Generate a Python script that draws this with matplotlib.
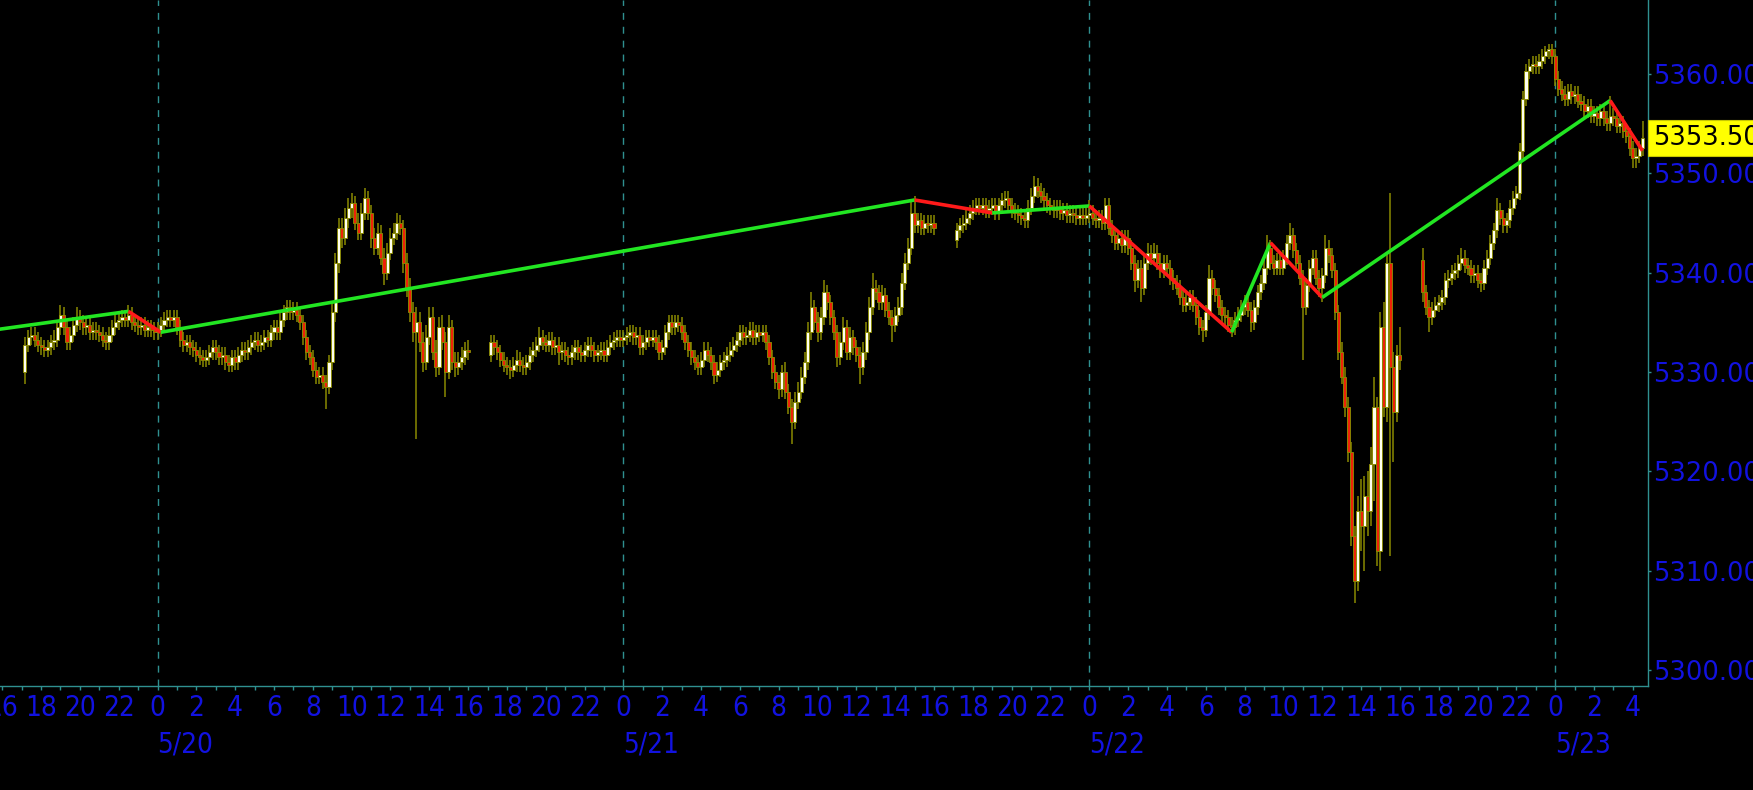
"""
ES futures 10-minute candles (5/19 evening - 5/23 morning) on a black
terminal-style canvas, with the swing (zigzag) overlay and last-price tag.
"""

import os
import numpy as np
import pandas as pd
import matplotlib
matplotlib.use("Agg")
import matplotlib.pyplot as plt
import matplotlib.dates as mdates
import matplotlib.transforms as mtransforms
from matplotlib.patches import Rectangle
from matplotlib import font_manager

# trading sessions (bar end times, 10-minute bars)
SESSIONS = [
    ("2024-05-19 17:10", "2024-05-20 16:00"),
    ("2024-05-20 17:10", "2024-05-21 16:00"),
    ("2024-05-21 17:10", "2024-05-22 16:00"),
    ("2024-05-22 17:10", "2024-05-23 04:30"),
]

# one row per hour, six bars per row
opens = [
    # session 5/19-5/20
    5330.0, 5332.75, 5333.5, 5333.75, 5333.25, 5332.75,
    5332.5, 5332.25, 5332.5, 5333.0, 5333.25, 5334.5,
    5335.75, 5334.5, 5333.0, 5333.75, 5334.75, 5335.5,
    5335.0, 5334.5, 5334.75, 5334.0, 5334.25, 5334.0,
    5333.75, 5333.25, 5333.0, 5333.75, 5334.5, 5335.0,
    5335.25, 5335.5, 5335.25, 5335.75, 5335.0, 5334.75,
    5334.5, 5334.75, 5334.25, 5334.5, 5334.25, 5334.0,
    5334.25, 5334.75, 5335.25, 5335.5, 5335.25, 5335.5,
    5334.5, 5333.25, 5332.75, 5333.0, 5332.5, 5332.25,
    5331.75, 5331.5, 5331.25, 5331.5, 5332.0, 5332.5,
    5332.0, 5331.5, 5331.75, 5331.0, 5330.75, 5331.5,
    5331.0, 5331.75, 5332.25, 5332.0, 5332.5, 5333.0,
    5333.25, 5332.75, 5333.0, 5333.5, 5333.25, 5334.0,
    5334.5, 5334.0, 5335.25, 5336.0, 5336.5, 5336.0,
    5336.25, 5335.75, 5335.0, 5333.5, 5332.0, 5331.5,
    5330.25, 5329.5, 5329.75, 5329.0, 5328.5, 5331.0,
    5336.0, 5341.0, 5344.5, 5343.5, 5345.5, 5346.5,
    5347.0, 5345.0, 5344.0, 5346.0, 5347.5, 5346.0,
    5343.5, 5342.5, 5344.0, 5341.5, 5340.0, 5342.0,
    5343.5, 5344.0, 5345.0, 5344.5, 5341.0, 5338.5,
    5336.0, 5334.0, 5335.0, 5333.0, 5331.0, 5333.5,
    5335.5, 5332.0, 5330.5, 5334.5, 5333.0, 5330.0,
    5334.5, 5331.0, 5330.5, 5331.0, 5331.5, 5332.25,
    # session 5/20-5/21
    5331.75, 5333.0, 5332.5, 5332.0, 5331.25, 5330.75,
    5330.5, 5330.25, 5330.75, 5331.25, 5330.75, 5330.5,
    5331.0, 5331.75, 5332.25, 5332.75, 5333.5, 5333.0,
    5332.75, 5333.25, 5332.5, 5332.75, 5332.0, 5332.25,
    5331.75, 5331.5, 5332.0, 5332.5, 5332.0, 5331.75,
    5332.25, 5332.75, 5332.25, 5331.75, 5332.0, 5332.25,
    5331.75, 5332.5, 5333.0, 5333.25, 5333.5, 5333.25,
    5333.5, 5333.75, 5334.0, 5333.5, 5333.75, 5332.5,
    5333.0, 5333.5, 5333.25, 5333.5, 5333.0, 5332.0,
    5332.5, 5334.0, 5335.0, 5334.5, 5335.0, 5334.75,
    5334.0, 5333.0, 5332.25, 5331.5, 5331.0, 5330.5,
    5331.25, 5332.25, 5331.75, 5331.0, 5329.75, 5330.25,
    5331.0, 5331.25, 5331.75, 5332.25, 5332.75, 5333.25,
    5334.0, 5333.5, 5333.75, 5334.25, 5333.5, 5334.0,
    5333.75, 5334.0, 5333.0, 5331.5, 5330.0, 5329.0,
    5328.25, 5330.0, 5328.0, 5326.5, 5325.0, 5327.0,
    5328.0, 5329.5, 5331.0, 5334.0, 5336.5, 5335.0,
    5334.0, 5335.5, 5338.0, 5337.0, 5335.5, 5334.0,
    5331.5, 5333.0, 5334.5, 5332.0, 5333.5, 5332.5,
    5331.75, 5330.5, 5332.0, 5334.0, 5336.5, 5338.5,
    5338.0, 5337.0, 5337.75, 5336.25, 5335.5, 5334.75,
    5335.75, 5336.5, 5339.0, 5341.0, 5342.5, 5346.0,
    5344.75, 5345.25, 5344.5, 5345.0, 5344.75, 5345.0,
    # session 5/21-5/22
    5343.25, 5344.25, 5344.75, 5345.0, 5345.5, 5346.0,
    5346.5, 5346.75, 5346.5, 5346.75, 5346.25, 5346.5,
    5346.75, 5346.0, 5346.75, 5347.25, 5347.5, 5346.75,
    5346.25, 5346.0, 5345.75, 5345.5, 5345.25, 5346.5,
    5347.75, 5348.75, 5348.25, 5347.75, 5347.25, 5346.75,
    5346.5, 5346.25, 5346.5, 5346.0, 5346.25, 5345.75,
    5346.0, 5345.75, 5345.5, 5345.75, 5345.5, 5345.75,
    5346.0, 5345.5, 5345.25, 5345.5, 5345.0, 5346.75,
    5344.5, 5343.75, 5343.0, 5343.5, 5342.75, 5343.5,
    5342.5, 5341.0, 5339.25, 5340.5, 5338.5, 5341.0,
    5342.0, 5341.5, 5342.0, 5341.0, 5340.25, 5341.0,
    5340.5, 5339.5, 5339.0, 5338.5, 5337.5, 5336.75,
    5337.0, 5337.5, 5336.75, 5335.5, 5334.5, 5334.25,
    5336.0, 5339.5, 5338.5, 5337.75, 5336.5, 5335.75,
    5335.5, 5334.75, 5334.5, 5335.25, 5335.75, 5336.5,
    5337.0, 5336.25, 5335.0, 5336.5, 5338.0, 5339.0,
    5340.5, 5342.5, 5341.0, 5340.5, 5341.25, 5340.5,
    5341.5, 5343.0, 5343.75, 5342.25, 5341.0, 5339.5,
    5336.5, 5338.75, 5340.5, 5341.5, 5339.5, 5338.5,
    5339.75, 5342.5, 5341.75, 5340.25, 5336.0, 5332.0,
    5329.5, 5326.5, 5322.0, 5313.5, 5309.0, 5316.0,
    5314.5, 5317.5, 5316.0, 5320.75, 5326.5, 5312.0,
    5334.5, 5326.5, 5341.0, 5330.5, 5326.0, 5331.75,
    # session 5/22-5/23
    5341.25, 5338.0, 5336.5, 5335.5, 5336.25, 5336.75,
    5337.0, 5337.5, 5339.25, 5339.5, 5340.0, 5340.25,
    5341.0, 5341.5, 5340.75, 5340.5, 5339.75, 5340.0,
    5339.25, 5339.0, 5340.5, 5341.5, 5343.0, 5344.25,
    5346.25, 5345.5, 5344.75, 5345.25, 5346.5, 5347.5,
    5348.0, 5352.25, 5357.5, 5360.25, 5360.75, 5361.0,
    5360.75, 5361.25, 5361.75, 5362.25, 5362.5, 5361.75,
    5359.5, 5358.5, 5358.0, 5357.5, 5358.25, 5357.75,
    5358.0, 5357.25, 5357.0, 5356.25, 5356.75, 5355.75,
    5356.0, 5355.5, 5356.25, 5355.5, 5355.0, 5355.75,
    5355.5, 5354.75, 5355.0, 5354.25, 5353.75, 5352.5,
    5351.5, 5351.75, 5352.5,
]

highs = [
    5333.5, 5334.25, 5334.5, 5334.5, 5334.0, 5333.5,
    5333.25, 5333.25, 5333.75, 5334.25, 5335.25, 5336.75,
    5336.5, 5335.25, 5334.5, 5335.5, 5336.5, 5336.25,
    5335.75, 5335.5, 5335.5, 5335.0, 5335.0, 5334.75,
    5334.5, 5334.0, 5334.5, 5335.25, 5335.75, 5336.0,
    5336.25, 5336.25, 5336.75, 5336.5, 5335.75, 5335.5,
    5335.5, 5335.5, 5335.25, 5335.25, 5335.0, 5335.0,
    5335.5, 5336.0, 5336.25, 5336.25, 5336.25, 5336.25,
    5335.25, 5334.0, 5333.75, 5333.75, 5333.25, 5333.0,
    5332.5, 5332.25, 5332.25, 5332.75, 5333.25, 5333.25,
    5332.75, 5332.5, 5332.5, 5331.75, 5332.25, 5332.25,
    5332.5, 5333.0, 5333.0, 5333.25, 5333.75, 5334.0,
    5334.0, 5333.75, 5334.25, 5334.25, 5334.75, 5335.25,
    5335.25, 5336.0, 5336.75, 5337.25, 5337.25, 5337.0,
    5337.0, 5336.5, 5335.75, 5334.25, 5332.75, 5332.25,
    5331.0, 5330.5, 5330.5, 5329.75, 5331.75, 5337.0,
    5342.0, 5345.5, 5345.5, 5346.5, 5347.5, 5348.0,
    5347.75, 5346.0, 5347.0, 5348.5, 5348.25, 5346.75,
    5344.5, 5345.0, 5344.75, 5342.5, 5343.0, 5344.5,
    5345.0, 5346.0, 5345.75, 5345.25, 5342.0, 5339.5,
    5337.0, 5336.5, 5336.0, 5334.0, 5334.75, 5336.5,
    5336.5, 5333.25, 5335.5, 5335.75, 5334.0, 5335.75,
    5335.25, 5332.0, 5332.0, 5332.5, 5333.0, 5333.25,
    5333.75, 5333.75, 5333.25, 5332.75, 5332.0, 5331.5,
    5331.25, 5331.5, 5332.25, 5332.0, 5331.5, 5331.75,
    5332.5, 5333.0, 5333.5, 5334.5, 5334.25, 5333.75,
    5334.0, 5334.0, 5333.5, 5333.5, 5333.0, 5333.0,
    5332.5, 5332.75, 5333.25, 5333.25, 5332.75, 5333.0,
    5333.5, 5333.5, 5333.0, 5332.75, 5333.0, 5333.0,
    5333.25, 5333.75, 5334.0, 5334.25, 5334.25, 5334.25,
    5334.5, 5334.75, 5334.75, 5334.5, 5334.5, 5333.75,
    5334.25, 5334.25, 5334.25, 5334.25, 5333.75, 5333.25,
    5334.75, 5335.75, 5335.75, 5335.75, 5335.75, 5335.5,
    5334.75, 5333.75, 5333.0, 5332.25, 5331.75, 5332.0,
    5333.0, 5333.0, 5332.5, 5331.75, 5331.0, 5331.75,
    5332.0, 5332.5, 5333.0, 5333.5, 5334.0, 5334.75,
    5334.75, 5334.5, 5335.0, 5335.0, 5334.75, 5334.75,
    5334.75, 5334.75, 5333.75, 5332.25, 5330.75, 5329.75,
    5330.75, 5331.0, 5328.75, 5327.25, 5328.0, 5329.0,
    5330.5, 5332.0, 5335.0, 5338.0, 5337.25, 5336.0,
    5336.5, 5339.25, 5338.75, 5337.75, 5336.25, 5334.75,
    5334.0, 5335.5, 5335.25, 5334.5, 5334.25, 5333.25,
    5332.5, 5333.0, 5335.0, 5337.5, 5340.0, 5339.25,
    5338.75, 5338.75, 5338.5, 5337.0, 5336.25, 5336.5,
    5337.5, 5340.0, 5342.0, 5343.5, 5347.25, 5347.75,
    5346.0, 5346.0, 5345.75, 5345.75, 5345.75, 5345.75,
    5345.0, 5345.5, 5345.75, 5346.25, 5346.75, 5347.25,
    5347.5, 5347.5, 5347.5, 5347.5, 5347.25, 5347.5,
    5347.5, 5347.5, 5348.0, 5348.25, 5348.25, 5347.5,
    5347.0, 5346.75, 5346.5, 5346.25, 5347.25, 5348.5,
    5349.75, 5349.5, 5349.0, 5348.5, 5348.0, 5347.5,
    5347.25, 5347.25, 5347.25, 5347.0, 5347.0, 5346.75,
    5346.75, 5346.5, 5346.5, 5346.5, 5346.5, 5347.25,
    5346.75, 5346.25, 5346.25, 5346.25, 5347.5, 5347.5,
    5345.25, 5344.5, 5344.25, 5344.25, 5344.25, 5344.25,
    5343.25, 5341.75, 5341.25, 5341.25, 5342.0, 5343.0,
    5342.75, 5343.0, 5342.75, 5342.0, 5341.75, 5341.75,
    5341.25, 5340.25, 5339.75, 5339.25, 5338.25, 5338.0,
    5338.25, 5338.25, 5337.5, 5336.25, 5335.25, 5336.75,
    5340.75, 5340.25, 5339.25, 5338.5, 5337.25, 5336.5,
    5336.25, 5335.5, 5336.0, 5336.5, 5337.25, 5337.75,
    5337.75, 5337.0, 5337.25, 5338.75, 5339.75, 5341.25,
    5343.75, 5343.25, 5341.75, 5342.0, 5342.0, 5342.25,
    5343.75, 5345.0, 5344.5, 5343.0, 5341.75, 5340.25,
    5339.5, 5341.25, 5342.25, 5342.25, 5340.25, 5340.5,
    5343.75, 5343.25, 5342.5, 5341.0, 5336.75, 5333.0,
    5330.5, 5327.5, 5323.0, 5314.5, 5317.5, 5319.25,
    5319.5, 5320.0, 5322.5, 5329.5, 5327.5, 5336.0,
    5337.0, 5342.0, 5348.0, 5332.0, 5332.75, 5334.5,
    5342.5, 5338.75, 5337.25, 5337.0, 5337.5, 5337.75,
    5338.25, 5340.0, 5340.25, 5340.75, 5341.0, 5341.75,
    5342.5, 5342.25, 5341.5, 5341.25, 5340.75, 5340.75,
    5340.0, 5341.25, 5342.25, 5343.75, 5345.0, 5347.5,
    5347.0, 5346.25, 5346.0, 5347.25, 5348.25, 5348.75,
    5353.0, 5358.25, 5361.0, 5361.5, 5361.75, 5361.75,
    5362.0, 5362.5, 5362.75, 5363.0, 5363.0, 5362.5,
    5360.25, 5359.25, 5358.75, 5359.0, 5359.0, 5358.75,
    5358.75, 5358.0, 5357.75, 5357.5, 5357.5, 5356.75,
    5356.75, 5357.0, 5357.0, 5356.25, 5357.75, 5356.5,
    5356.25, 5355.75, 5355.75, 5355.0, 5354.5, 5353.25,
    5352.5, 5353.25, 5355.25,
]

lows = [
    5328.75, 5332.0, 5332.75, 5332.5, 5332.0, 5331.75,
    5331.5, 5331.5, 5331.75, 5332.25, 5332.5, 5333.75,
    5333.75, 5332.25, 5332.25, 5333.0, 5334.0, 5334.25,
    5333.75, 5333.75, 5333.25, 5333.25, 5333.25, 5333.0,
    5332.5, 5332.25, 5332.25, 5333.0, 5333.75, 5334.25,
    5334.5, 5334.5, 5334.5, 5334.25, 5334.0, 5333.75,
    5333.75, 5333.5, 5333.5, 5333.5, 5333.25, 5333.25,
    5333.5, 5334.0, 5334.5, 5334.5, 5334.5, 5333.75,
    5332.5, 5332.0, 5332.0, 5331.75, 5331.5, 5331.0,
    5330.75, 5330.5, 5330.5, 5330.75, 5331.25, 5331.25,
    5330.75, 5330.75, 5330.25, 5330.0, 5330.0, 5330.25,
    5330.25, 5331.0, 5331.25, 5331.25, 5331.75, 5332.25,
    5332.0, 5332.0, 5332.25, 5332.5, 5332.5, 5333.25,
    5333.25, 5333.25, 5334.5, 5335.25, 5335.25, 5335.25,
    5335.0, 5334.25, 5332.75, 5331.25, 5330.75, 5329.5,
    5328.75, 5328.75, 5328.25, 5326.25, 5327.75, 5330.25,
    5335.0, 5340.0, 5342.5, 5342.75, 5344.5, 5345.5,
    5344.25, 5343.25, 5343.25, 5345.25, 5345.25, 5342.5,
    5341.75, 5341.75, 5340.75, 5338.75, 5339.25, 5341.25,
    5342.75, 5343.25, 5343.75, 5340.0, 5337.5, 5335.0,
    5333.0, 5323.25, 5332.0, 5330.0, 5330.25, 5332.75,
    5331.25, 5329.5, 5329.75, 5332.25, 5327.5, 5329.25,
    5330.25, 5329.5, 5329.75, 5330.25, 5330.75, 5331.25,
    5331.0, 5331.75, 5331.25, 5330.5, 5330.0, 5329.75,
    5329.25, 5329.5, 5330.0, 5330.0, 5329.75, 5329.75,
    5330.25, 5331.0, 5331.5, 5332.0, 5332.25, 5332.0,
    5332.0, 5331.75, 5331.75, 5330.75, 5331.25, 5331.0,
    5330.75, 5330.75, 5331.25, 5331.25, 5331.0, 5331.0,
    5331.5, 5331.5, 5331.0, 5331.0, 5331.25, 5331.0,
    5331.0, 5331.75, 5332.25, 5332.5, 5332.5, 5332.5,
    5332.75, 5333.0, 5332.75, 5332.75, 5331.75, 5331.75,
    5332.25, 5332.5, 5332.5, 5332.25, 5331.25, 5331.25,
    5331.75, 5333.25, 5333.75, 5333.75, 5334.0, 5333.25,
    5332.25, 5331.5, 5330.75, 5330.25, 5329.75, 5329.75,
    5330.5, 5331.0, 5330.25, 5328.75, 5329.0, 5329.5,
    5330.25, 5330.5, 5331.0, 5331.5, 5332.0, 5332.5,
    5332.75, 5332.75, 5333.0, 5332.75, 5332.75, 5333.0,
    5333.0, 5332.25, 5330.75, 5329.25, 5328.25, 5327.25,
    5327.5, 5327.25, 5325.75, 5322.75, 5324.25, 5326.25,
    5327.25, 5328.75, 5330.25, 5333.25, 5334.25, 5333.0,
    5333.25, 5334.75, 5336.25, 5334.75, 5333.25, 5330.5,
    5330.75, 5332.25, 5331.25, 5331.25, 5331.75, 5331.0,
    5328.75, 5329.75, 5331.25, 5333.25, 5335.75, 5337.25,
    5336.25, 5336.25, 5335.5, 5334.75, 5333.0, 5334.0,
    5335.0, 5335.75, 5338.25, 5340.25, 5341.75, 5344.0,
    5344.0, 5343.75, 5343.75, 5344.0, 5344.0, 5343.75,
    5342.5, 5343.5, 5344.0, 5344.25, 5344.75, 5345.25,
    5345.75, 5345.75, 5345.75, 5345.5, 5345.5, 5345.75,
    5345.25, 5345.25, 5346.0, 5346.5, 5346.0, 5345.5,
    5345.25, 5345.0, 5344.75, 5344.5, 5344.5, 5345.75,
    5347.0, 5347.5, 5347.0, 5346.5, 5346.0, 5345.75,
    5345.5, 5345.5, 5345.25, 5345.25, 5345.0, 5345.0,
    5345.0, 5344.75, 5344.75, 5344.75, 5344.75, 5345.0,
    5344.75, 5344.5, 5344.5, 5344.25, 5344.25, 5343.75,
    5343.0, 5342.25, 5342.25, 5342.0, 5342.0, 5341.75,
    5340.25, 5338.0, 5338.5, 5337.0, 5337.75, 5340.25,
    5340.75, 5340.75, 5340.25, 5339.5, 5339.5, 5339.75,
    5338.75, 5338.25, 5337.75, 5336.75, 5336.0, 5336.0,
    5336.25, 5336.0, 5334.75, 5333.75, 5333.0, 5333.5,
    5335.25, 5337.75, 5337.0, 5335.75, 5335.0, 5334.75,
    5334.0, 5333.5, 5333.75, 5334.5, 5335.0, 5335.75,
    5335.5, 5334.0, 5334.25, 5335.75, 5337.25, 5338.25,
    5339.75, 5340.25, 5339.75, 5339.75, 5339.75, 5339.75,
    5340.75, 5342.25, 5341.5, 5340.25, 5338.75, 5331.25,
    5335.75, 5338.0, 5339.75, 5338.75, 5337.5, 5337.0,
    5339.0, 5341.0, 5339.5, 5335.25, 5331.25, 5328.75,
    5325.5, 5321.0, 5312.5, 5306.75, 5308.0, 5312.0,
    5310.0, 5313.5, 5314.5, 5317.0, 5310.5, 5310.0,
    5325.5, 5325.0, 5311.5, 5321.0, 5325.0, 5330.25,
    5337.0, 5335.75, 5334.0, 5334.75, 5335.5, 5336.0,
    5336.25, 5336.75, 5338.5, 5338.75, 5339.25, 5339.5,
    5340.25, 5340.0, 5339.75, 5339.0, 5339.0, 5338.5,
    5338.0, 5338.25, 5339.75, 5340.75, 5342.25, 5343.5,
    5344.75, 5344.0, 5344.0, 5344.5, 5345.75, 5346.75,
    5347.25, 5351.5, 5356.75, 5359.5, 5360.0, 5360.0,
    5360.0, 5360.5, 5361.0, 5361.5, 5361.0, 5358.75,
    5357.75, 5357.25, 5356.75, 5356.75, 5357.0, 5357.0,
    5356.5, 5356.25, 5355.5, 5355.5, 5355.0, 5355.0,
    5354.75, 5354.75, 5354.75, 5354.25, 5354.25, 5354.75,
    5354.0, 5354.0, 5353.5, 5353.0, 5351.75, 5350.5,
    5350.5, 5351.0, 5351.75,
]

closes = [
    5332.75, 5333.5, 5333.75, 5333.25, 5332.75, 5332.5,
    5332.25, 5332.5, 5333.0, 5333.25, 5334.5, 5335.75,
    5334.5, 5333.0, 5333.75, 5334.75, 5335.5, 5335.0,
    5334.5, 5334.75, 5334.0, 5334.25, 5334.0, 5333.75,
    5333.25, 5333.0, 5333.75, 5334.5, 5335.0, 5335.25,
    5335.5, 5335.25, 5335.75, 5335.0, 5334.75, 5334.5,
    5334.75, 5334.25, 5334.5, 5334.25, 5334.0, 5334.25,
    5334.75, 5335.25, 5335.5, 5335.25, 5335.5, 5334.5,
    5333.25, 5332.75, 5333.0, 5332.5, 5332.25, 5331.75,
    5331.5, 5331.25, 5331.5, 5332.0, 5332.5, 5332.0,
    5331.5, 5331.75, 5331.0, 5330.75, 5331.5, 5331.0,
    5331.75, 5332.25, 5332.0, 5332.5, 5333.0, 5333.25,
    5332.75, 5333.0, 5333.5, 5333.25, 5334.0, 5334.5,
    5334.0, 5335.25, 5336.0, 5336.5, 5336.0, 5336.25,
    5335.75, 5335.0, 5333.5, 5332.0, 5331.5, 5330.25,
    5329.5, 5329.75, 5329.0, 5328.5, 5331.0, 5336.0,
    5341.0, 5344.5, 5343.5, 5345.5, 5346.5, 5347.0,
    5345.0, 5344.0, 5346.0, 5347.5, 5346.0, 5343.5,
    5342.5, 5344.0, 5341.5, 5340.0, 5342.0, 5343.5,
    5344.0, 5345.0, 5344.5, 5341.0, 5338.5, 5336.0,
    5334.0, 5335.0, 5333.0, 5331.0, 5333.5, 5335.5,
    5332.0, 5330.5, 5334.5, 5333.0, 5330.0, 5334.5,
    5331.0, 5330.5, 5331.0, 5331.5, 5332.25, 5332.0,
    5333.0, 5332.5, 5332.0, 5331.25, 5330.75, 5330.5,
    5330.25, 5330.75, 5331.25, 5330.75, 5330.5, 5331.0,
    5331.75, 5332.25, 5332.75, 5333.5, 5333.0, 5332.75,
    5333.25, 5332.5, 5332.75, 5332.0, 5332.25, 5331.75,
    5331.5, 5332.0, 5332.5, 5332.0, 5331.75, 5332.25,
    5332.75, 5332.25, 5331.75, 5332.0, 5332.25, 5331.75,
    5332.5, 5333.0, 5333.25, 5333.5, 5333.25, 5333.5,
    5333.75, 5334.0, 5333.5, 5333.75, 5332.5, 5333.0,
    5333.5, 5333.25, 5333.5, 5333.0, 5332.0, 5332.5,
    5334.0, 5335.0, 5334.5, 5335.0, 5334.75, 5334.0,
    5333.0, 5332.25, 5331.5, 5331.0, 5330.5, 5331.25,
    5332.25, 5331.75, 5331.0, 5329.75, 5330.25, 5331.0,
    5331.25, 5331.75, 5332.25, 5332.75, 5333.25, 5334.0,
    5333.5, 5333.75, 5334.25, 5333.5, 5334.0, 5333.75,
    5334.0, 5333.0, 5331.5, 5330.0, 5329.0, 5328.25,
    5330.0, 5328.0, 5326.5, 5325.0, 5327.0, 5328.0,
    5329.5, 5331.0, 5334.0, 5336.5, 5335.0, 5334.0,
    5335.5, 5338.0, 5337.0, 5335.5, 5334.0, 5331.5,
    5333.0, 5334.5, 5332.0, 5333.5, 5332.5, 5331.75,
    5330.5, 5332.0, 5334.0, 5336.5, 5338.5, 5338.0,
    5337.0, 5337.75, 5336.25, 5335.5, 5334.75, 5335.75,
    5336.5, 5339.0, 5341.0, 5342.5, 5346.0, 5344.75,
    5345.25, 5344.5, 5345.0, 5344.75, 5345.0, 5344.5,
    5344.25, 5344.75, 5345.0, 5345.5, 5346.0, 5346.5,
    5346.75, 5346.5, 5346.75, 5346.25, 5346.5, 5346.75,
    5346.0, 5346.75, 5347.25, 5347.5, 5346.75, 5346.25,
    5346.0, 5345.75, 5345.5, 5345.25, 5346.5, 5347.75,
    5348.75, 5348.25, 5347.75, 5347.25, 5346.75, 5346.5,
    5346.25, 5346.5, 5346.0, 5346.25, 5345.75, 5346.0,
    5345.75, 5345.5, 5345.75, 5345.5, 5345.75, 5346.0,
    5345.5, 5345.25, 5345.5, 5345.0, 5346.75, 5344.5,
    5343.75, 5343.0, 5343.5, 5342.75, 5343.5, 5342.5,
    5341.0, 5339.25, 5340.5, 5338.5, 5341.0, 5342.0,
    5341.5, 5342.0, 5341.0, 5340.25, 5341.0, 5340.5,
    5339.5, 5339.0, 5338.5, 5337.5, 5336.75, 5337.0,
    5337.5, 5336.75, 5335.5, 5334.5, 5334.25, 5336.0,
    5339.5, 5338.5, 5337.75, 5336.5, 5335.75, 5335.5,
    5334.75, 5334.5, 5335.25, 5335.75, 5336.5, 5337.0,
    5336.25, 5335.0, 5336.5, 5338.0, 5339.0, 5340.5,
    5342.5, 5341.0, 5340.5, 5341.25, 5340.5, 5341.5,
    5343.0, 5343.75, 5342.25, 5341.0, 5339.5, 5336.5,
    5338.75, 5340.5, 5341.5, 5339.5, 5338.5, 5339.75,
    5342.5, 5341.75, 5340.25, 5336.0, 5332.0, 5329.5,
    5326.5, 5322.0, 5313.5, 5309.0, 5316.0, 5314.5,
    5317.5, 5316.0, 5320.75, 5326.5, 5312.0, 5334.5,
    5326.5, 5341.0, 5330.5, 5326.0, 5331.75, 5331.25,
    5338.0, 5336.5, 5335.5, 5336.25, 5336.75, 5337.0,
    5337.5, 5339.25, 5339.5, 5340.0, 5340.25, 5341.0,
    5341.5, 5340.75, 5340.5, 5339.75, 5340.0, 5339.25,
    5339.0, 5340.5, 5341.5, 5343.0, 5344.25, 5346.25,
    5345.5, 5344.75, 5345.25, 5346.5, 5347.5, 5348.0,
    5352.25, 5357.5, 5360.25, 5360.75, 5361.0, 5360.75,
    5361.25, 5361.75, 5362.25, 5362.5, 5361.75, 5359.5,
    5358.5, 5358.0, 5357.5, 5358.25, 5357.75, 5358.0,
    5357.25, 5357.0, 5356.25, 5356.75, 5355.75, 5356.0,
    5355.5, 5356.25, 5355.5, 5355.0, 5355.75, 5355.5,
    5354.75, 5355.0, 5354.25, 5353.75, 5352.5, 5351.5,
    5351.75, 5352.5, 5353.5,
]

# swing pivots of the overlay line
zz_times = ["2024-05-19 15:50", "2024-05-19 22:30", "2024-05-20 00:10",
            "2024-05-21 15:00", "2024-05-21 19:00", "2024-05-22 00:00",
            "2024-05-22 07:20", "2024-05-22 09:20", "2024-05-22 12:00",
            "2024-05-23 02:50", "2024-05-23 04:30"]
zz_prices = [5334.3, 5336.1, 5334.0, 5347.3, 5346.0, 5346.7,
             5334.0, 5343.0, 5337.5, 5357.3, 5352.25]

day_marks = ["2024-05-20", "2024-05-21", "2024-05-22", "2024-05-23"]
price_ticks = [5300, 5310, 5320, 5330, 5340, 5350, 5360]
last_price = 5353.50

X_START, X_END = "2024-05-19 15:53", "2024-05-23 04:47"
Y_MIN, Y_MAX = 5298.43, 5367.41

BG = "black"
TEAL = "#2f9090"
BLUE = "#1212e0"
OLIVE = "#8a8a00"
UP_FACE = "#fffff0"
DOWN_FACE = "#ee2208"
ZZ_UP = "#22e622"
ZZ_DOWN = "#ff1a1a"


def time_axis_font():
    # the time scale uses a narrow face; take the narrowest one installed
    files = [f.fname for f in font_manager.fontManager.ttflist]
    prefs = [("LiberationSansNarrow-Regular", 22.0),
             ("DejaVuSansCondensed.ttf", 20.0),
             ("Condensed-Regular", 20.0),
             ("Condensed.ttf", 19.0)]
    for key, size in prefs:
        for fn in files:
            if key in os.path.basename(fn):
                return font_manager.FontProperties(fname=fn, size=size)
    return font_manager.FontProperties(family="DejaVu Sans", size=15.5)


def main():
    bar_times = pd.DatetimeIndex(np.concatenate(
        [pd.date_range(a, b, freq="10min").values for a, b in SESSIONS]))
    x = mdates.date2num(bar_times.to_pydatetime())
    o = np.array(opens)
    h = np.array(highs)
    l = np.array(lows)
    c = np.array(closes)

    fig = plt.figure(figsize=(17.53, 7.90), dpi=100, facecolor=BG)
    ax = fig.add_axes([0.0, 104 / 790, 1648 / 1753, 686 / 790])
    ax.set_facecolor(BG)

    midnights = mdates.date2num(pd.to_datetime(day_marks).to_pydatetime())
    for m in midnights:
        ax.axvline(m, color=TEAL, linestyle=(0, (5, 5)), linewidth=1, zorder=1)

    bar_w = (10 / 1440) * 0.95
    up = c >= o
    ax.vlines(x, l, h, color=OLIVE, linewidth=1.1, zorder=2)
    ax.bar(x, np.abs(c - o), bottom=np.minimum(o, c), width=bar_w,
           color=np.where(up, UP_FACE, DOWN_FACE), edgecolor=OLIVE,
           linewidth=0.65, zorder=3)

    zx = mdates.date2num(pd.to_datetime(zz_times).to_pydatetime())
    for i in range(len(zx) - 1):
        col = ZZ_UP if zz_prices[i + 1] > zz_prices[i] else ZZ_DOWN
        ax.plot(zx[i:i + 2], zz_prices[i:i + 2], color=col, linewidth=2.6,
                solid_capstyle="butt", zorder=4)

    ax.set_xlim(mdates.date2num(pd.Timestamp(X_START)),
                mdates.date2num(pd.Timestamp(X_END)))
    ax.set_ylim(Y_MIN, Y_MAX)

    for side in ("left", "top"):
        ax.spines[side].set_visible(False)
    for side in ("right", "bottom"):
        ax.spines[side].set_color(TEAL)
        ax.spines[side].set_linewidth(1)

    ax.yaxis.tick_right()
    ax.set_yticks(price_ticks, labels=[f"{v:.2f}" for v in price_ticks],
                  fontfamily="DejaVu Sans", fontsize=18.5, color=BLUE)
    ax.tick_params(axis="y", length=2.5, width=1, color=TEAL, pad=1.5)

    fp = time_axis_font()
    hour_ticks = pd.date_range("2024-05-19 16:00", "2024-05-23 04:00", freq="2h")
    ax.set_xticks(mdates.date2num(hour_ticks.to_pydatetime()),
                  labels=[str(t.hour) for t in hour_ticks],
                  fontproperties=fp, color=BLUE)
    minor_ticks = pd.date_range("2024-05-19 16:00", "2024-05-23 04:00", freq="1h")
    ax.set_xticks(mdates.date2num(minor_ticks.to_pydatetime()), minor=True)
    ax.tick_params(axis="x", which="both", length=3, width=1, color=TEAL, pad=3)

    blend = mtransforms.blended_transform_factory(ax.transData, ax.transAxes)
    for m, d in zip(midnights, pd.to_datetime(day_marks)):
        ax.text(m, -0.085, f"{d.month}/{d.day}", transform=blend, ha="left",
                va="center", color=BLUE, fontproperties=fp)

    # last price tag on the price scale
    tag = mtransforms.blended_transform_factory(ax.transAxes, ax.transData)
    ax.add_patch(Rectangle((1.0, last_price - 1.8), 0.08, 3.6, transform=tag,
                           facecolor="#ffff00", edgecolor="#c8c800",
                           linewidth=0.8, clip_on=False, zorder=5))
    ax.text(1.003, last_price, f"{last_price:.2f}", transform=tag, ha="left",
            va="center", color="black", fontsize=18.5,
            fontfamily="DejaVu Sans", clip_on=False, zorder=6)

    fig.savefig("out.png", dpi=100, facecolor=BG)
    plt.close(fig)


if __name__ == "__main__":
    main()
